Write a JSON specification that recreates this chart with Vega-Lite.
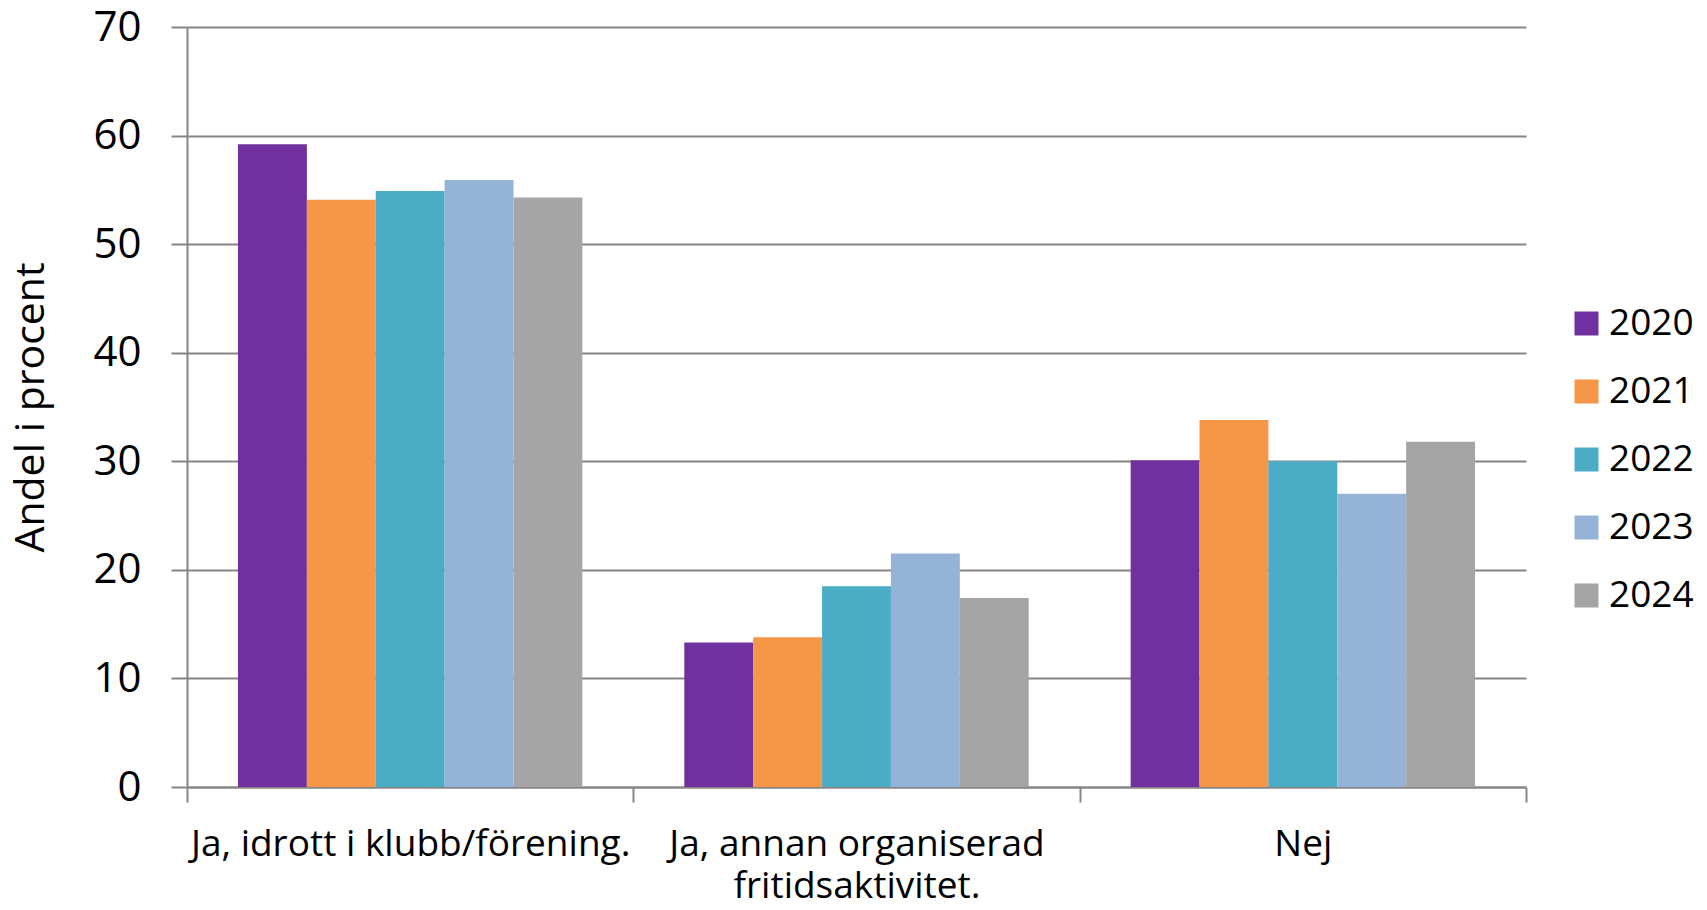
{
  "$schema": "https://vega.github.io/schema/vega-lite/v6.json",
  "width": 1339,
  "height": 760,
  "autosize": {"type": "none"},
  "padding": {"left": 187, "top": 27, "right": 181, "bottom": 123},
  "background": "white",
  "data": {
    "values": [
      {"kategori": "Ja, idrott i klubb/förening.", "år": "2020", "andel": 59.2},
      {"kategori": "Ja, idrott i klubb/förening.", "år": "2021", "andel": 54.1},
      {"kategori": "Ja, idrott i klubb/förening.", "år": "2022", "andel": 54.9},
      {"kategori": "Ja, idrott i klubb/förening.", "år": "2023", "andel": 55.9},
      {"kategori": "Ja, idrott i klubb/förening.", "år": "2024", "andel": 54.3},
      {"kategori": "Ja, annan organiserad fritidsaktivitet.", "år": "2020", "andel": 13.3},
      {"kategori": "Ja, annan organiserad fritidsaktivitet.", "år": "2021", "andel": 13.8},
      {"kategori": "Ja, annan organiserad fritidsaktivitet.", "år": "2022", "andel": 18.5},
      {"kategori": "Ja, annan organiserad fritidsaktivitet.", "år": "2023", "andel": 21.5},
      {"kategori": "Ja, annan organiserad fritidsaktivitet.", "år": "2024", "andel": 17.4},
      {"kategori": "Nej", "år": "2020", "andel": 30.1},
      {"kategori": "Nej", "år": "2021", "andel": 33.8},
      {"kategori": "Nej", "år": "2022", "andel": 30.0},
      {"kategori": "Nej", "år": "2023", "andel": 27.0},
      {"kategori": "Nej", "år": "2024", "andel": 31.8}
    ]
  },
  "mark": {"type": "bar"},
  "encoding": {
    "x": {
      "field": "kategori",
      "type": "nominal",
      "sort": ["Ja, idrott i klubb/förening.", "Ja, annan organiserad fritidsaktivitet.", "Nej"],
      "scale": {"paddingInner": 0, "paddingOuter": 0},
      "axis": {
        "title": null,
        "labelAngle": 0,
        "tickBand": "extent",
        "grid": false,
        "domainColor": "#868686",
        "domainWidth": 2,
        "tickColor": "#868686",
        "tickWidth": 2,
        "tickSize": 15,
        "labelFontSize": 37,
        "labelColor": "#000000",
        "labelPadding": 24,
        "labelLineHeight": 42,
        "labelLimit": 0,
        "labelExpr": "datum.label == 'Ja, annan organiserad fritidsaktivitet.' ? ['Ja, annan organiserad', 'fritidsaktivitet.'] : datum.label"
      }
    },
    "xOffset": {
      "field": "år",
      "type": "nominal",
      "sort": ["2020", "2021", "2022", "2023", "2024"],
      "scale": {"paddingInner": 0, "paddingOuter": 0.74}
    },
    "y": {
      "field": "andel",
      "type": "quantitative",
      "scale": {"domain": [0, 70], "nice": false},
      "axis": {
        "values": [0, 10, 20, 30, 40, 50, 60, 70],
        "title": "Andel i procent",
        "titleFontSize": 41,
        "titleFontWeight": "normal",
        "titleColor": "#000000",
        "titlePadding": 40,
        "grid": true,
        "gridColor": "#868686",
        "gridWidth": 2,
        "domainColor": "#868686",
        "domainWidth": 2,
        "tickColor": "#868686",
        "tickWidth": 2,
        "tickSize": 16,
        "labelFontSize": 42,
        "labelColor": "#000000",
        "labelPadding": 30
      }
    },
    "color": {
      "field": "år",
      "type": "nominal",
      "scale": {
        "domain": ["2020", "2021", "2022", "2023", "2024"],
        "range": ["#7030A0", "#F79646", "#4BACC6", "#95B3D7", "#A5A5A5"]
      },
      "legend": {
        "title": null,
        "orient": "none",
        "legendX": 1381,
        "legendY": 278,
        "symbolType": "square",
        "symbolSize": 576,
        "symbolStrokeWidth": 0,
        "labelFontSize": 37,
        "labelColor": "#000000",
        "labelOffset": 4,
        "rowPadding": 30
      }
    }
  },
  "config": {
    "font": "Open Sans",
    "view": {"stroke": null}
  }
}
